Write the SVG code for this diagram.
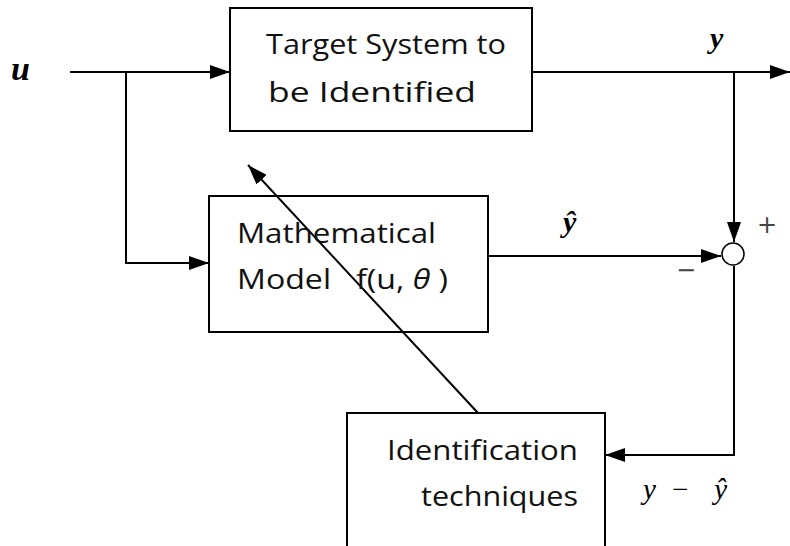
<svg xmlns="http://www.w3.org/2000/svg" width="790" height="546" viewBox="0 0 790 546">
  <defs>
    <marker id="arrowL" viewBox="0 0 20 14" refX="20" refY="7" markerWidth="20" markerHeight="14" markerUnits="userSpaceOnUse" orient="auto">
      <path d="M0,0 L20,7 L0,14 Z" fill="#000"/>
    </marker>
  </defs>
  <style>
    .box { fill: #fff; stroke: #000; stroke-width: 2; }
    .wire { fill: none; stroke: #000; stroke-width: 2; }
    .label { font-family: "Open Sans", "Liberation Sans", sans-serif; font-size: 27px; fill: #111; }
    .math { font-family: "Liberation Serif", "DejaVu Serif", serif; font-style: italic; fill: #000; }
    .sign { font-family: "DejaVu Sans", sans-serif; font-size: 24px; fill: #444; }
  </style>
  <rect width="790" height="546" fill="#fff"/>

  <g id="connectors">
    <!-- input u to target system -->
    <path class="wire" d="M70,72 H230" marker-end="url(#arrowL)"/>
    <!-- u branch to model -->
    <path class="wire" d="M126,72 V263 H209" marker-end="url(#arrowL)"/>
    <!-- plant output y -->
    <path class="wire" d="M532,72 H790" marker-end="url(#arrowL)"/>
    <!-- y into summing junction -->
    <path class="wire" d="M734,72 V242" marker-end="url(#arrowL)"/>
    <!-- model output y-hat into summing junction -->
    <path class="wire" d="M488,256 H721" marker-end="url(#arrowL)"/>
    <!-- error back to identification -->
    <path class="wire" d="M734,266 V455 H605" marker-end="url(#arrowL)"/>
    <!-- parameter update -->
    <path class="wire" d="M478,413 L248,165" marker-end="url(#arrowL)"/>
  </g>

  <g id="target-system">
    <rect class="box" x="230" y="8" width="302" height="123"/>
    <text class="label" x="266" y="54" textLength="240" lengthAdjust="spacingAndGlyphs">Target System to</text>
    <text class="label" x="268" y="102" textLength="208" lengthAdjust="spacingAndGlyphs">be Identified</text>
  </g>

  <g id="math-model">
    <rect class="box" x="209" y="196" width="279" height="136" fill-opacity="0"/>
    <text class="label" x="237" y="243" textLength="199" lengthAdjust="spacingAndGlyphs">Mathematical</text>
    <text class="label" x="237" y="289" xml:space="preserve" textLength="211" lengthAdjust="spacingAndGlyphs">Model   f(u, <tspan font-style="italic">θ</tspan> )</text>
  </g>

  <g id="identification">
    <rect class="box" x="347" y="413" width="258" height="150"/>
    <text class="label" x="387" y="460" textLength="191" lengthAdjust="spacingAndGlyphs">Identification</text>
    <text class="label" x="421" y="506" textLength="157" lengthAdjust="spacingAndGlyphs">techniques</text>
  </g>

  <g id="summing-junction">
    <circle cx="733" cy="254" r="11" fill="#fff" stroke="#000" stroke-width="1.5"/>
    <text class="sign" x="757" y="233">+</text>
    <text class="sign" x="676" y="278">−</text>
  </g>

  <g id="signal-labels">
    <text class="math" x="11" y="80" font-size="34" font-weight="bold">u</text>
    <text class="math" x="710" y="48" font-size="30" font-weight="bold">y</text>
    <text class="math" x="563" y="232" font-size="30" font-weight="bold">ŷ</text>
    <text class="math" x="643" y="499" font-size="29" xml:space="preserve" textLength="84" lengthAdjust="spacing">y −  ŷ</text>
  </g>
</svg>
